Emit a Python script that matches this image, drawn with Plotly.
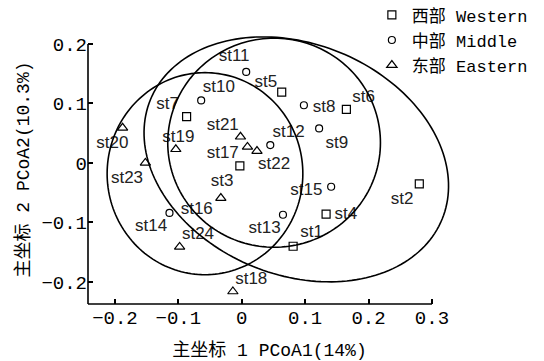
import numpy as np
import plotly.graph_objects as go

# ---------------- data ----------------
west_names = ["st1", "st2", "st4", "st5", "st6", "st7", "st16"]
west_x = [0.081, 0.280, 0.133, 0.063, 0.165, -0.087, -0.003]
west_y = [-0.140, -0.035, -0.086, 0.119, 0.090, 0.078, -0.005]

mid_names = ["st8", "st9", "st10", "st11", "st12", "st13", "st14", "st15"]
mid_x = [0.098, 0.122, -0.064, 0.007, 0.045, 0.065, -0.114, 0.141]
mid_y = [0.097, 0.058, 0.105, 0.153, 0.030, -0.087, -0.084, -0.040]

east_names = ["st3", "st17", "st18", "st19", "st20", "st21", "st22", "st23", "st24"]
east_x = [-0.033, 0.009, -0.014, -0.104, -0.188, -0.002, 0.024, -0.152, -0.098]
east_y = [-0.059, 0.027, -0.216, 0.023, 0.059, 0.044, 0.020, 0.000, -0.141]

label_text = ["st11", "st5", "st10", "st7", "st21", "st12", "st19", "st20", "st17",
              "st22", "st8", "st6", "st9", "st23", "st3", "st16", "st14", "st24",
              "st13", "st18", "st15", "st4", "st1", "st2"]
label_x = [-0.012, 0.038, -0.036, -0.117, -0.030, 0.074, -0.100, -0.204, -0.030,
           0.051, 0.130, 0.192, 0.150, -0.181, -0.031, -0.071, -0.143, -0.069,
           0.036, 0.015, 0.102, 0.164, 0.110, 0.253]
label_y = [0.178, 0.135, 0.126, 0.097, 0.062, 0.050, 0.043, 0.033, 0.015,
           -0.003, 0.092, 0.110, 0.033, -0.026, -0.031, -0.079, -0.108, -0.121,
           -0.111, -0.197, -0.047, -0.087, -0.118, -0.061]

group_names = ["西部 Western", "中部 Middle", "东部 Eastern"]

# confidence ellipses: centre (data), semi-axes (px at reference scale), tilt (deg, clockwise)
ell_cx = [-0.058, 0.051, 0.086]
ell_cy = [-0.018, 0.034, 0.006]
ell_a = [98.0, 106.5, 157.8]
ell_b = [101.0, 104.5, 115.5]
ell_ang = [0.0, 0.0, 22.2]

x_ticks = [-0.2, -0.1, 0, 0.1, 0.2, 0.3]
y_ticks = [-0.2, -0.1, 0, 0.1, 0.2]

# ---------------- layout constants ----------------
XR = [-0.2425, 0.33]
YR = [-0.237, 0.215]
SX, SY = 635.0, 595.0  # px per data unit

mono = "Liberation Mono, Noto Sans CJK SC, monospace"


def ellipse_path(cx, cy, a, b, ang):
    t = np.linspace(0, 2 * np.pi, 181)
    th = np.deg2rad(ang)
    dx = a * np.cos(t) * np.cos(th) - b * np.sin(t) * np.sin(th)
    dy = a * np.cos(t) * np.sin(th) + b * np.sin(t) * np.cos(th)
    xs = cx + dx / SX
    ys = cy - dy / SY
    return "M " + " L ".join(f"{x:.5f},{y:.5f}" for x, y in zip(xs, ys)) + " Z"


fig = go.Figure()

sym = ["square-open", "circle-open", "triangle-up-open"]
sizes = [8, 7, 9]
for name, xs, ys, nm, s, sz in [
    (group_names[0], west_x, west_y, west_names, sym[0], sizes[0]),
    (group_names[1], mid_x, mid_y, mid_names, sym[1], sizes[1]),
    (group_names[2], east_x, east_y, east_names, sym[2], sizes[2]),
]:
    fig.add_trace(go.Scatter(
        x=xs, y=ys, mode="markers", name=name, hovertext=nm,
        marker=dict(symbol=s, size=sz, color="black", line=dict(color="black", width=1.2)),
    ))

fig.add_trace(go.Scatter(
    x=label_x, y=label_y, mode="text", text=label_text, showlegend=False,
    textposition="middle center",
    textfont=dict(family="Liberation Sans, Arial, sans-serif", size=17, color="#222"),
))

shapes = []
for cx, cy, a, b, ang in zip(ell_cx, ell_cy, ell_a, ell_b, ell_ang):
    shapes.append(dict(type="path", path=ellipse_path(cx, cy, a, b, ang), xref="x", yref="y",
                       line=dict(color="black", width=1.6), layer="above"))


def px_frac(v):
    return (v - XR[0]) / (XR[1] - XR[0])


def py_frac(v):
    return (v - YR[0]) / (YR[1] - YR[0])


shapes.append(dict(type="line", xref="paper", yref="paper", x0=0, x1=px_frac(0.3), y0=0, y1=0,
                   line=dict(color="black", width=1.6)))
shapes.append(dict(type="line", xref="paper", yref="paper", x0=0, x1=0, y0=0, y1=py_frac(0.2),
                   line=dict(color="black", width=1.6)))

fig.update_layout(
    width=544, height=361,
    margin=dict(l=88, r=93, t=35, b=57, autoexpand=False),
    paper_bgcolor="white", plot_bgcolor="white",
    shapes=shapes,
    showlegend=True,
    legend=dict(x=0.782, y=1.14, xanchor="left", yanchor="top",
                font=dict(family=mono, size=17, color="black"),
                bgcolor="rgba(0,0,0,0)", itemwidth=30, tracegroupgap=0),
    xaxis=dict(range=XR, showgrid=False, zeroline=False, showline=False, tickangle=0,
               tickvals=x_ticks, ticks="inside", ticklen=5, tickwidth=1.5, tickcolor="black",
               tickfont=dict(family=mono, size=19, color="black"),
               title=dict(text="主坐标 1 PCoA1(14%)", font=dict(family=mono, size=18, color="black"),
                          standoff=16)),
    yaxis=dict(range=YR, showgrid=False, zeroline=False, showline=False,
               tickvals=y_ticks, ticks="inside", ticklen=5, tickwidth=1.5, tickcolor="black",
               tickfont=dict(family=mono, size=19, color="black"),
               title=dict(text="主坐标 2 PCoA2(10.3%)", font=dict(family=mono, size=18, color="black"),
                          standoff=7)),
)

fig.write_html("out.html", config={"displayModeBar": False},
               post_script="document.body.style.margin='0';")
